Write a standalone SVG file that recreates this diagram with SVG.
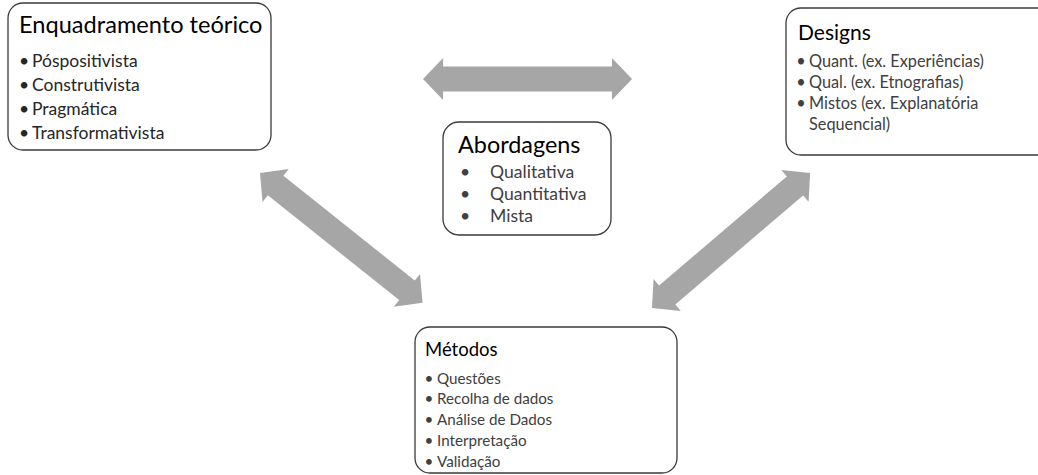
<svg xmlns="http://www.w3.org/2000/svg" xmlns:xlink="http://www.w3.org/1999/xlink" width="1038" height="475" viewBox="0 0 1038 475">
<style>
.box{fill:#fff;stroke:#3a3a3a;stroke-width:1.3}
text{font-family:Lato,"Open Sans","Liberation Sans",sans-serif}
.t{fill:#000}
.i{fill:#262626}
.g{fill:#404040}
.arr{fill:#a6a6a6}
</style>
<defs>
<polygon id="dbl" class="arr" points="0,0 20,-21 20,-12.5 188,-12.5 188,-21 208,0 188,21 188,12.5 20,12.5 20,21"/>
</defs>
<rect width="1038" height="475" fill="#fff"/>
<g id="connectors">
<use xlink:href="#dbl" transform="translate(423,79) scale(1.005,1)"/>
<use xlink:href="#dbl" transform="translate(260,173) rotate(38.6)"/>
<use xlink:href="#dbl" transform="translate(652,308) rotate(-40.5)"/>
</g>
<g id="enquadramento">
<rect class="box" x="8" y="3" width="263" height="147" rx="15"/>
<text class="t" x="19" y="33" font-size="23.6">Enquadramento teórico</text>
<g class="i" font-size="17.5">
<text x="24" y="67" text-anchor="middle">•</text><text x="32" y="67">Póspositivista</text>
<text x="24" y="91" text-anchor="middle">•</text><text x="32" y="91">Construtivista</text>
<text x="24" y="115" text-anchor="middle">•</text><text x="32" y="115">Pragmática</text>
<text x="24" y="139" text-anchor="middle">•</text><text x="32" y="139">Transformativista</text>
</g>
</g>
<g id="designs">
<rect class="box" x="786" y="8" width="280" height="147" rx="15"/>
<text class="t" x="798" y="40" font-size="21">Designs</text>
<g class="g" font-size="16.3">
<text x="801" y="67" text-anchor="middle">•</text><text x="809" y="67">Quant. (ex.  Experiências)</text>
<text x="801" y="88" text-anchor="middle">•</text><text x="809" y="88">Qual. (ex.  Etnografias)</text>
<text x="801" y="109" text-anchor="middle">•</text><text x="809" y="109">Mistos (ex. Explanatória</text>
<text x="809" y="130">Sequencial)</text>
</g>
</g>
<g id="abordagens">
<rect class="box" x="443" y="122" width="168" height="113" rx="16"/>
<text class="t" x="458" y="153" font-size="23.4">Abordagens</text>
<g class="g" font-size="17.6">
<text x="465" y="178" text-anchor="middle">•</text><text x="490" y="178">Qualitativa</text>
<text x="465" y="200" text-anchor="middle">•</text><text x="490" y="200">Quantitativa</text>
<text x="465" y="222" text-anchor="middle">•</text><text x="490" y="222">Mista</text>
</g>
</g>
<g id="metodos">
<rect class="box" x="415" y="327" width="262" height="146" rx="15"/>
<text class="t" x="425" y="356" font-size="18.5">Métodos</text>
<g class="g" font-size="15.2">
<text x="429" y="384" text-anchor="middle">•</text><text x="437" y="384">Questões</text>
<text x="429" y="404" text-anchor="middle">•</text><text x="437" y="404">Recolha de dados</text>
<text x="429" y="425" text-anchor="middle">•</text><text x="437" y="425">Análise de Dados</text>
<text x="429" y="446" text-anchor="middle">•</text><text x="437" y="446">Interpretação</text>
<text x="429" y="467" text-anchor="middle">•</text><text x="437" y="467">Validação</text>
</g>
</g>
</svg>
